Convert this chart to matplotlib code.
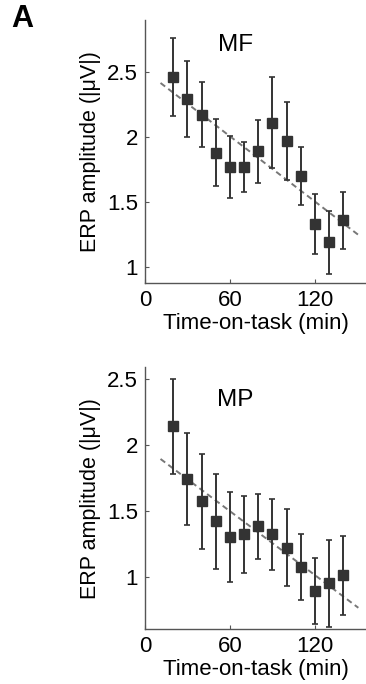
import matplotlib.pyplot as plt

plt.rcParams['font.family'] = ['Liberation Sans', 'DejaVu Sans']

# time-on-task bins (min)
time_min = [20, 30, 40, 50, 60, 70, 80, 90, 100, 110, 120, 130, 140]

# MF: mean ERP amplitude and error
mf_amp = [2.46, 2.29, 2.17, 1.88, 1.77, 1.77, 1.89, 2.11, 1.97, 1.70, 1.33, 1.19, 1.36]
mf_err = [0.30, 0.29, 0.25, 0.26, 0.24, 0.19, 0.24, 0.35, 0.30, 0.22, 0.23, 0.24, 0.22]

# MP: mean ERP amplitude and error
mp_amp = [2.14, 1.74, 1.57, 1.42, 1.30, 1.32, 1.38, 1.32, 1.22, 1.07, 0.89, 0.95, 1.01]
mp_err = [0.36, 0.35, 0.36, 0.36, 0.34, 0.29, 0.25, 0.27, 0.29, 0.25, 0.25, 0.33, 0.30]

# linear trend lines (end points)
fit_x = [11, 150.6]
mf_fit = [2.415, 1.248]
mp_fit = [1.892, 0.763]

panels = [
    ("MF", mf_amp, mf_err, mf_fit, (0.877, 2.90), [0.396, 0.586, 0.604, 0.385], 2.71),
    ("MP", mp_amp, mp_err, mp_fit, (0.60, 2.59), [0.396, 0.080, 0.604, 0.3835], 2.34),
]

fig = plt.figure(figsize=(3.66, 6.84), dpi=100)

for name, amp, err, fit, ylim, rect, ty in panels:
    ax = fig.add_axes(rect)
    ax.plot(fit_x, fit, linestyle='--', color='#777777', linewidth=1.4, dashes=(3, 2))
    ax.errorbar(time_min, amp, yerr=err, fmt='s', color='#333333', ecolor='#333333',
                markersize=6.8, elinewidth=1.4, capsize=2, capthick=1.2)
    ax.set_xlim(0, 156)
    ax.set_ylim(*ylim)
    ax.set_xticks([0, 60, 120])
    ax.set_yticks([1, 1.5, 2, 2.5])
    ax.set_yticklabels(['1', '1.5', '2', '2.5'])
    ax.tick_params(direction='in', length=3, width=0.8, labelsize=16, pad=5, colors='#555555',
                   labelcolor='black')
    for s in ['top', 'right']:
        ax.spines[s].set_visible(False)
    for s in ['left', 'bottom']:
        ax.spines[s].set_color('#555555')
        ax.spines[s].set_linewidth(1.0)
    ax.set_xlabel('Time-on-task (min)', fontsize=16, labelpad=1)
    ax.set_ylabel('ERP amplitude (|μV|)', fontsize=15.5, labelpad=4)
    ax.text(64, ty, name, fontsize=17.5, ha='center', va='center')

fig.text(0.03, 0.972, 'A', fontsize=22, fontweight='bold', ha='left', va='center')

fig.savefig('out.png', dpi=100)
